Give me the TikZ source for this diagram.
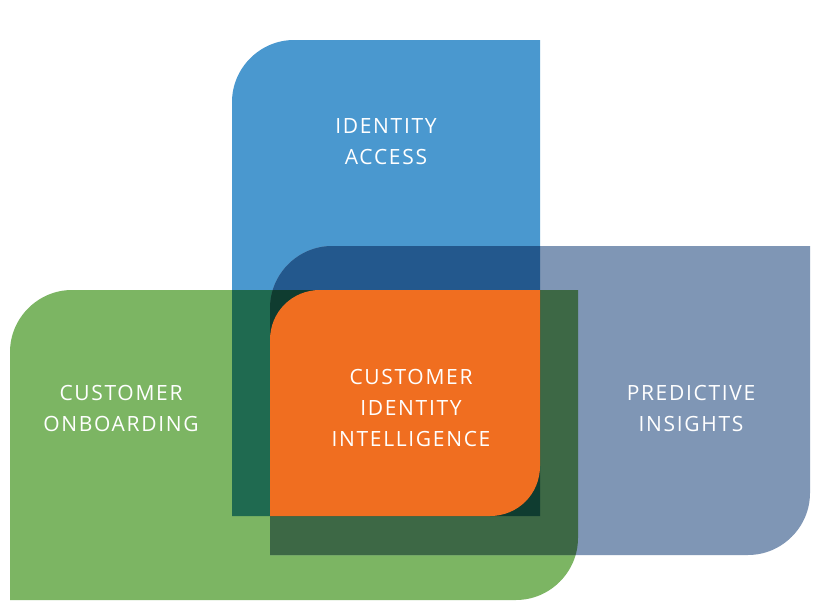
\documentclass[tikz,border=0pt]{standalone}
\usepackage{fontspec}
\setmainfont{Open Sans}[LetterSpace=8]
\usetikzlibrary{positioning}
\definecolor{idblue}{HTML}{4A98CF}
\definecolor{onbgreen}{HTML}{7CB563}
\definecolor{predslate}{HTML}{7F96B5}
\definecolor{intorange}{HTML}{F06E20}
\definecolor{bluegreen}{HTML}{1F6A50}
\definecolor{blueslate}{HTML}{23588D}
\definecolor{greenslate}{HTML}{3D6845}
\definecolor{allthree}{HTML}{0F3C30}
\def\bluepath{(232,516) -- (232,102) .. controls (232,68) and (260,40) .. (294,40) -- (540,40) -- (540,516) -- cycle}
\def\greenpath{(10,600) -- (10,352) .. controls (10,318) and (38,290) .. (72,290) -- (578,290) -- (578,538) .. controls (578,572) and (550,600) .. (516,600) -- cycle}
\def\slatepath{(270,555) -- (270,308) .. controls (270,274) and (298,246) .. (332,246) -- (810,246) -- (810,493) .. controls (810,527) and (782,555) .. (748,555) -- cycle}
\def\orangepath{(270,516) -- (270,340) .. controls (270,312) and (292,290) .. (320,290) -- (540,290) -- (540,466) .. controls (540,494) and (518,516) .. (490,516) -- cycle}

\begin{document}
\begin{tikzpicture}[x=1pt,y=-1pt,
    label/.style={text=white, align=center, font=\fontsize{21}{31}\selectfont}
  ]
  \useasboundingbox[fill=white] (0,0) rectangle (820,613);

  % base shapes
  \fill[idblue] \bluepath;
  \fill[onbgreen] \greenpath;
  \fill[predslate] \slatepath;

  % overlaps
  \begin{scope}
    \clip \bluepath;
    \fill[bluegreen] \greenpath;
    \fill[blueslate] \slatepath;
  \end{scope}
  \begin{scope}
    \clip \greenpath;
    \fill[greenslate] \slatepath;
    \clip \slatepath;
    \fill[allthree] \bluepath;
  \end{scope}
  \fill[intorange] \orangepath;

  % labels
  \node[label] (access) at (386,142) {IDENTITY\\ACCESS};
  \node[label] (onboard) at (121,408) {CUSTOMER\\ONBOARDING};
  \node[label] (intel) at (411,408) {CUSTOMER\\IDENTITY\\INTELLIGENCE};
  \node[label] (insight) at (691,408) {PREDICTIVE\\INSIGHTS};
\end{tikzpicture}
\end{document}
